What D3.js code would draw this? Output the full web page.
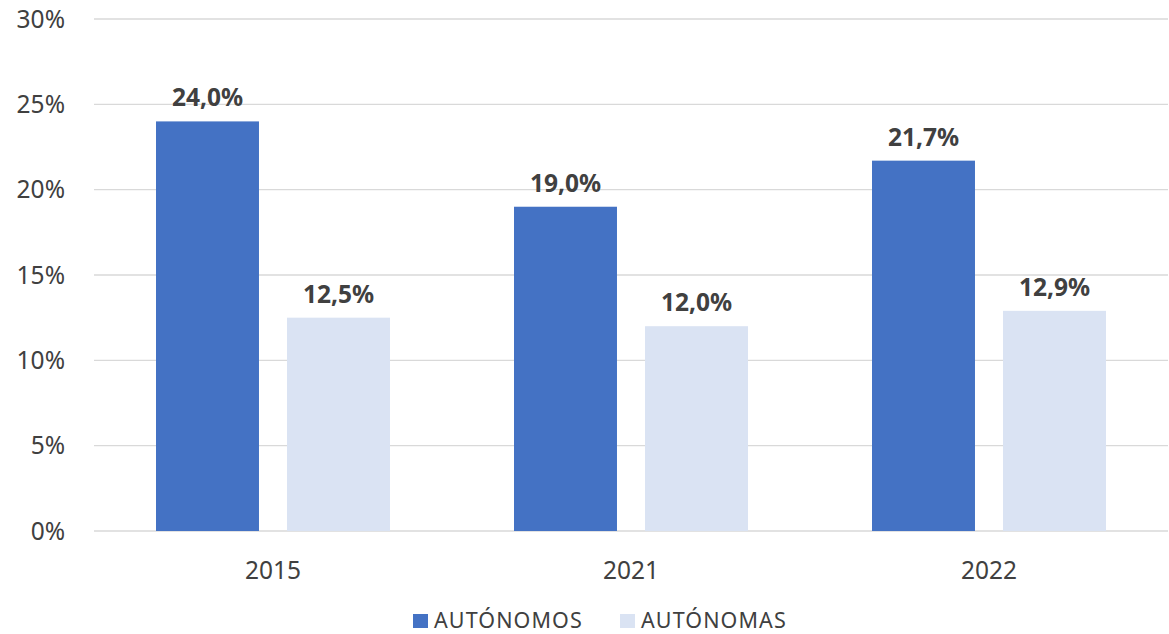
<!DOCTYPE html>
<html><head><meta charset="utf-8">
<script src="https://cdn.jsdelivr.net/npm/d3@7"></script>
<style>body{margin:0;background:#fff;}svg{display:block;font-family:"Noto Sans","Open Sans",sans-serif;}</style>
</head><body>
<svg id="c" width="1169" height="634"></svg>
<script>
const categories = ["2015", "2021", "2022"];
const seriesNames = ["AUTÓNOMOS", "AUTÓNOMAS"];
const autonomos = [24.0, 19.0, 21.7];
const autonomas = [12.5, 12.0, 12.9];
const yTicks = [0, 5, 10, 15, 20, 25, 30];
const colors = ["#4472C4", "#DAE3F3"];

(function () {
const svg = d3.select("#c");
const mLeft = 94, mRight = 1168, mTop = 19, mBottom = 531;
const x = d3.scaleBand().domain(categories).range([mLeft, mRight]).paddingInner(0).paddingOuter(0);
const inner = d3.scaleBand().domain(seriesNames).range([62, 296]).paddingInner(0.214);
const y = d3.scaleLinear().domain([0, 30]).range([mBottom, mTop]);

svg.append("g").selectAll("line").data(yTicks).join("line")
  .attr("x1", mLeft).attr("x2", mRight)
  .attr("y1", d => y(d)).attr("y2", d => y(d))
  .attr("stroke", "#d9d9d9").attr("stroke-width", 1.3);

svg.append("g").selectAll("text").data(yTicks).join("text")
  .attr("x", 65).attr("y", d => y(d)).attr("dy", "0.36em")
  .attr("text-anchor", "end").attr("fill", "#404040").attr("font-size", 24.5)
  .text(d => d + "%");

const series = [autonomos, autonomas];
series.forEach((vals, si) => {
  const g = svg.append("g");
  g.selectAll("rect").data(vals).join("rect")
    .attr("x", (d, i) => x(categories[i]) + inner(seriesNames[si]))
    .attr("width", inner.bandwidth())
    .attr("y", d => y(d)).attr("height", d => y(0) - y(d))
    .attr("fill", colors[si]);
  g.selectAll("text").data(vals).join("text")
    .attr("x", (d, i) => x(categories[i]) + inner(seriesNames[si]) + inner.bandwidth() / 2)
    .attr("y", d => y(d) - 15)
    .attr("text-anchor", "middle").attr("font-weight", "bold").attr("font-size", 24.5)
    .attr("fill", "#404040")
    .text(d => d.toFixed(1).replace(".", ",") + "%");
});

svg.append("g").selectAll("text").data(categories).join("text")
  .attr("x", d => x(d) + x.bandwidth() / 2).attr("y", 579)
  .attr("text-anchor", "middle").attr("fill", "#404040").attr("font-size", 24.5)
  .text(d => d);

const leg = svg.append("g");
const legX = [413, 620];
seriesNames.forEach((n, i) => {
  leg.append("rect").attr("x", legX[i]).attr("y", 614).attr("width", 15).attr("height", 14).attr("fill", colors[i]);
  leg.append("text").attr("x", legX[i] + 21).attr("y", 627.5).attr("font-size", 21.5)
    .attr("letter-spacing", 1.1).attr("fill", "#404040").text(n);
});
})();
</script>
</body></html>
